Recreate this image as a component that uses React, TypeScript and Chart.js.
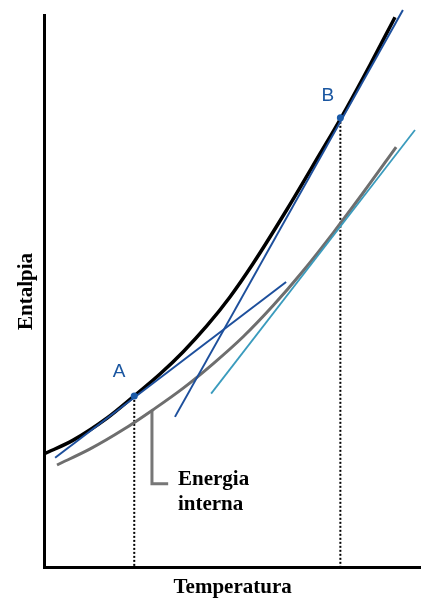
import React, { useEffect, useRef } from "react";
import { Chart, registerables } from "chart.js";

Chart.register(...registerables);

// Enthalpy curve (arbitrary units)
const enthalpyT = [0, 7.7, 16.7, 23.9, 30.8, 36.9, 43.2, 49.3, 55.4, 64.5, 73.2, 78.8, 86.5, 93.1];
const enthalpyH = [20.6, 23.1, 27.1, 31.1, 35.1, 39.1, 43.8, 49.0, 55.0, 64.9, 74.9, 81.4, 91.0, 99.6];

// Internal energy curve
const energyT = [3.4, 12.2, 21.0, 28.9, 36.9, 44.8, 52.8, 60.7, 68.7, 76.7, 84.6, 93.4];
const energyU = [18.6, 21.5, 25.0, 28.6, 32.5, 36.9, 41.8, 47.4, 53.7, 60.6, 67.8, 76.1];

// Tangent lines
const tangentAT = [2.9, 64.2];
const tangentAH = [19.9, 51.7];
const tangentBT = [34.7, 95.2];
const tangentBH = [27.3, 100.9];
const tangentUT = [44.3, 98.4];
const tangentUH = [31.5, 79.2];

// Marked points A and B
const pointNames = ["A", "B"];
const pointT = [23.9, 78.6];
const pointH = [31.1, 81.4];

// Leader line to the "Energia interna" label
const leaderT = [28.6, 28.6, 32.9];
const leaderH = [28.4, 15.2, 15.2];

// Label anchors
const labelAT = [19.9, 75.3];
const labelAH = [35.4, 85.4];
const energyLabelLines = ["Energia", "interna"];
const energyLabelT = 35.5;
const energyLabelH = [15.9, 11.4];

const xy = (xs: number[], ys: number[]) => xs.map((v, i) => ({ x: v, y: ys[i] }));

const SERIF = "'Liberation Serif', 'Times New Roman', serif";
const SANS = "'Liberation Sans', Arial, sans-serif";

const labelPlugin = {
  id: "textLabels",
  afterDatasetsDraw(chart: any) {
    const { ctx, scales } = chart;
    const x = scales.x;
    const y = scales.y;
    ctx.save();
    ctx.textBaseline = "middle";
    ctx.textAlign = "center";
    ctx.fillStyle = "#1a56a0";
    ctx.font = `19px ${SANS}`;
    pointNames.forEach((n, i) => {
      ctx.fillText(n, x.getPixelForValue(labelAT[i]), y.getPixelForValue(labelAH[i]));
    });
    ctx.textAlign = "left";
    ctx.fillStyle = "#000";
    ctx.font = `bold 21px ${SERIF}`;
    energyLabelLines.forEach((t, i) => {
      ctx.fillText(t, x.getPixelForValue(energyLabelT), y.getPixelForValue(energyLabelH[i]));
    });
    ctx.restore();
  },
};

export default function App() {
  const ref = useRef<HTMLCanvasElement>(null);
  useEffect(() => {
    if (!ref.current) return;
    const lineBase = { pointRadius: 0, fill: false, clip: false as any };
    const chart = new Chart(ref.current, {
      type: "line",
      data: {
        datasets: [
          {
            ...lineBase,
            data: xy([pointT[0], pointT[0]], [pointH[0], 0]),
            borderColor: "#000",
            borderWidth: 2,
            borderDash: [2, 2],
            order: 10,
          },
          {
            ...lineBase,
            data: xy([pointT[1], pointT[1]], [pointH[1], 0]),
            borderColor: "#000",
            borderWidth: 2,
            borderDash: [2, 2],
            order: 10,
          },
          {
            ...lineBase,
            data: xy(leaderT, leaderH),
            borderColor: "#777",
            borderWidth: 3,
            order: 9,
          },
          {
            ...lineBase,
            data: xy(energyT, energyU),
            borderColor: "#6e6e6e",
            borderWidth: 3,
            tension: 0.4,
            cubicInterpolationMode: "monotone",
            order: 8,
          },
          {
            ...lineBase,
            data: xy(enthalpyT, enthalpyH),
            borderColor: "#000",
            borderWidth: 3.5,
            tension: 0.4,
            cubicInterpolationMode: "monotone",
            order: 7,
          },
          {
            ...lineBase,
            data: xy(tangentAT, tangentAH),
            borderColor: "#1d4f9c",
            borderWidth: 2,
            order: 5,
          },
          {
            ...lineBase,
            data: xy(tangentBT, tangentBH),
            borderColor: "#1d4f9c",
            borderWidth: 2,
            order: 5,
          },
          {
            ...lineBase,
            data: xy(tangentUT, tangentUH),
            borderColor: "#3a9bbd",
            borderWidth: 1.8,
            order: 5,
          },
          {
            data: xy(pointT, pointH),
            showLine: false,
            pointRadius: 3.5,
            pointBackgroundColor: "#1a5aa8",
            pointBorderColor: "#1a5aa8",
            pointBorderWidth: 0,
            clip: false as any,
            order: 1,
          },
        ] as any,
      },
      options: {
        animation: false,
        responsive: false,
        layout: { autoPadding: false, padding: { left: 10, top: 15, right: 0, bottom: 0 } },
        plugins: { legend: { display: false }, tooltip: { enabled: false } },
        scales: {
          x: {
            type: "linear",
            min: 0,
            max: 100,
            grid: { display: false, drawTicks: false },
            ticks: { display: false },
            border: { display: true, color: "#000", width: 3 },
            title: {
              display: true,
              text: "Temperatura",
              color: "#000",
              font: { family: SERIF, size: 21, weight: "bold" },
              padding: { top: 7, bottom: 0 },
            },
          },
          y: {
            type: "linear",
            min: 0,
            max: 100,
            grid: { display: false, drawTicks: false },
            ticks: { display: false },
            border: { display: true, color: "#000", width: 3 },
            title: {
              display: true,
              text: "Entalpia",
              color: "#000",
              font: { family: SERIF, size: 21, weight: "bold" },
              padding: { top: 4, bottom: 5 },
            },
          },
        },
      },
      plugins: [labelPlugin],
    });
    return () => chart.destroy();
  }, []);
  return (
    <div style={{ position: "absolute", left: 0, top: 0, width: 421, height: 600, background: "#fff" }}>
      <canvas ref={ref} width={421} height={600} style={{ display: "block" }} />
    </div>
  );
}
